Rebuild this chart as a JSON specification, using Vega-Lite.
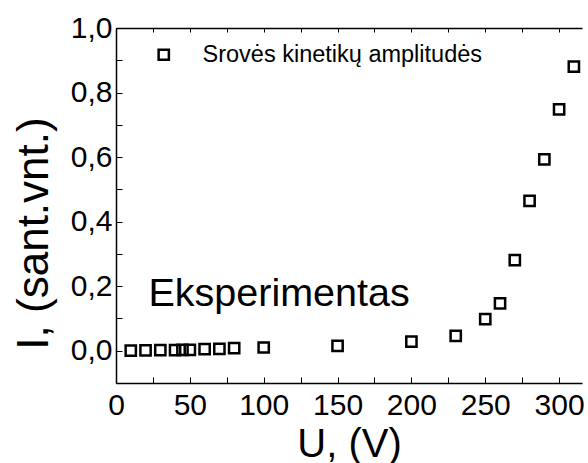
{
  "$schema": "https://vega.github.io/schema/vega-lite/v6.json",
  "autosize": "none",
  "width": 466,
  "height": 355,
  "padding": {"left": 116, "top": 28, "right": 6, "bottom": 80},
  "background": "white",
  "config": {
    "font": "Liberation Sans",
    "view": {"stroke": null},
    "axis": {
      "domainColor": "black",
      "domainWidth": 1.5,
      "tickColor": "black",
      "tickWidth": 1,
      "tickSize": -6,
      "labelFlush": false,
      "labelColor": "black",
      "labelFont": "Liberation Sans",
      "labelFontSize": 30,
      "titleColor": "black",
      "titleFont": "Liberation Sans",
      "titleFontSize": 40,
      "titleFontWeight": "normal",
      "grid": false
    }
  },
  "datasets": {
    "amplitudes": [
      {"U": 10, "I": 0.0, "s": "Srovės kinetikų amplitudės"},
      {"U": 20, "I": 0.001, "s": "Srovės kinetikų amplitudės"},
      {"U": 30, "I": 0.002, "s": "Srovės kinetikų amplitudės"},
      {"U": 40, "I": 0.002, "s": "Srovės kinetikų amplitudės"},
      {"U": 45, "I": 0.003, "s": "Srovės kinetikų amplitudės"},
      {"U": 50, "I": 0.003, "s": "Srovės kinetikų amplitudės"},
      {"U": 60, "I": 0.005, "s": "Srovės kinetikų amplitudės"},
      {"U": 70, "I": 0.006, "s": "Srovės kinetikų amplitudės"},
      {"U": 80, "I": 0.008, "s": "Srovės kinetikų amplitudės"},
      {"U": 100, "I": 0.01, "s": "Srovės kinetikų amplitudės"},
      {"U": 150, "I": 0.015, "s": "Srovės kinetikų amplitudės"},
      {"U": 200, "I": 0.028, "s": "Srovės kinetikų amplitudės"},
      {"U": 230, "I": 0.046, "s": "Srovės kinetikų amplitudės"},
      {"U": 250, "I": 0.098, "s": "Srovės kinetikų amplitudės"},
      {"U": 260, "I": 0.147, "s": "Srovės kinetikų amplitudės"},
      {"U": 270, "I": 0.281, "s": "Srovės kinetikų amplitudės"},
      {"U": 280, "I": 0.464, "s": "Srovės kinetikų amplitudės"},
      {"U": 290, "I": 0.593, "s": "Srovės kinetikų amplitudės"},
      {"U": 300, "I": 0.748, "s": "Srovės kinetikų amplitudės"},
      {"U": 310, "I": 0.88, "s": "Srovės kinetikų amplitudės"}
    ],
    "notes": [
      {"U": 22, "I": 0.14, "label": "Eksperimentas"}
    ]
  },
  "resolve": {"axis": {"x": "independent", "y": "independent"}},
  "layer": [
    {
      "data": {"name": "amplitudes"},
      "mark": {"type": "point", "shape": "square", "filled": false, "stroke": "black", "strokeWidth": 2.5, "size": 105, "opacity": 1},
      "encoding": {
        "x": {
          "field": "U", "type": "quantitative",
          "scale": {"domain": [0, 315.5], "nice": false, "zero": false},
          "axis": {
            "orient": "bottom",
            "title": "U, (V)",
            "values": [0, 25, 50, 75, 100, 125, 150, 175, 200, 225, 250, 275, 300],
            "labelExpr": "datum.value % 50 === 0 ? datum.label : ''",
            "labelPadding": 13,
            "titlePadding": 4
          }
        },
        "y": {
          "field": "I", "type": "quantitative",
          "scale": {"domain": [-0.1, 1.0], "nice": false, "zero": false},
          "axis": {
            "orient": "left",
            "title": "I, (sant.vnt.)",
            "titleFontSize": 44,
            "titleX": -60,
            "titleY": 205,
            "values": [-0.1, 0, 0.1, 0.2, 0.3, 0.4, 0.5, 0.6, 0.7, 0.8, 0.9, 1.0],
            "labelExpr": "(round(datum.value * 10) % 2 === 0 && datum.value >= 0) ? replace(format(datum.value, '.1f'), '.', ',') : ''",
            "labelPadding": 10
          }
        },
        "shape": {
          "field": "s", "type": "nominal",
          "scale": {"range": ["square"]},
          "legend": {
            "title": null,
            "orient": "none",
            "legendX": 36,
            "legendY": 15,
            "padding": 0,
            "symbolSize": 105,
            "symbolStrokeWidth": 2.5,
            "symbolStrokeColor": "black",
            "symbolFillColor": "white",
            "labelFontSize": 23.5,
            "labelFont": "Liberation Sans",
            "labelColor": "black",
            "labelOffset": 27,
            "labelLimit": 500
          }
        }
      }
    },
    {
      "mark": {"type": "rule", "color": "black", "strokeWidth": 1.5},
      "encoding": {"y": {"datum": 1.0, "type": "quantitative", "axis": null}}
    },
    {
      "data": {"name": "notes"},
      "mark": {"type": "text", "align": "left", "baseline": "alphabetic", "fontSize": 39.5, "font": "Liberation Sans", "color": "black"},
      "encoding": {
        "x": {
          "field": "U", "type": "quantitative",
          "axis": {
            "orient": "top", "title": null, "labels": false, "tickSize": -4,
            "values": [0, 25, 50, 75, 100, 125, 150, 175, 200, 225, 250, 275, 300]
          }
        },
        "y": {"field": "I", "type": "quantitative", "axis": null},
        "text": {"field": "label"}
      }
    }
  ]
}
